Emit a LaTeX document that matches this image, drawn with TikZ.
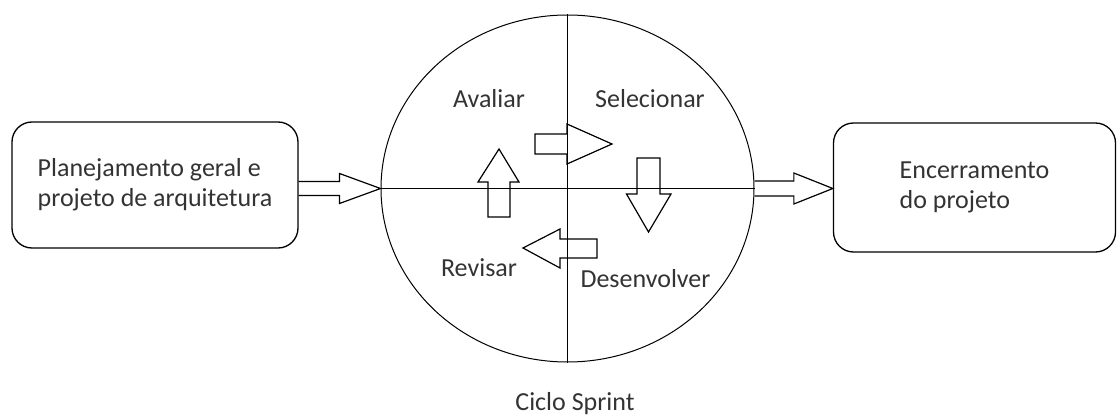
\documentclass[tikz,border=0pt]{standalone}
\usepackage{fontspec}
\setmainfont{Carlito}
\usetikzlibrary{calc,shapes.geometric}
\begin{document}
\begin{tikzpicture}[x=1pt,y=-1pt,
  every node/.style={font=\fontsize{26}{30}\selectfont, text=black!80},
  box/.style={draw, line width=1.3pt, rounded corners=20pt, minimum width=286pt, minimum height=126pt, align=left, inner sep=0pt},
  blk/.style={draw, line width=1.2pt, line join=miter},
  axis/.style={draw, line width=1.1pt},
  lbl/.style={anchor=base}]
\useasboundingbox (0,0) rectangle (1117,417);
% boxes
\node[box] (plan) at (155,185) {Planejamento geral e\\projeto de arquitetura};
\node[box, minimum width=282pt, minimum height=129pt] (enc) at (974.5,187.5) {Encerramento\\do projeto};
% cycle
\node[draw, ellipse, minimum width=373pt, minimum height=347pt, line width=1pt, inner sep=0pt] (cyc) at (567.5,188.5) {};
\draw[axis] (cyc.north) -- (cyc.south);
\draw[axis] (cyc.west) -- (cyc.east);
% labels
\node[lbl] (aval) at (489,108) {Avaliar};
\node[lbl] (sel) at (650,108) {Selecionar};
\node[lbl] (rev) at (479,276) {Revisar};
\node[lbl] (des) at (645.5,287) {Desenvolver};
\node[lbl] (cic) at (575,410) {Ciclo Sprint};
% big block arrows
\draw[blk] ($(plan.east |- cyc.west)+(0,-7)$) -- ($(cyc.west)+(-41,-7)$) -- ($(cyc.west)+(-41,-15)$) -- (cyc.west)
  -- ($(cyc.west)+(-41,15)$) -- ($(cyc.west)+(-41,7)$) -- ($(plan.east |- cyc.west)+(0,7)$);
\coordinate (tipR) at (enc.west |- cyc.east);
\draw[blk] ($(cyc.east)+(0,-7.5)$) -- ($(tipR)+(-39,-7.5)$) -- ($(tipR)+(-39,-15.5)$) -- (tipR)
  -- ($(tipR)+(-39,15.5)$) -- ($(tipR)+(-39,7.5)$) -- ($(cyc.east)+(0,7.5)$);
% inner cycle arrows
\draw[blk] (535,134) -- (567,134) -- (567,124) -- (612,144) -- (567,164) -- (567,154) -- (535,154) -- cycle;
\draw[blk] (637,158) -- (660,158) -- (660,194) -- (671,194) -- (648.5,232) -- (626.5,194) -- (637,194) -- cycle;
\draw[blk] (597,239) -- (560,239) -- (560,229) -- (523,248) -- (560,268) -- (560,258) -- (597,258) -- cycle;
\draw[blk] (488,217) -- (510,217) -- (510,182) -- (519,182) -- (499,149) -- (478,182) -- (488,182) -- cycle;
\end{tikzpicture}
\end{document}
